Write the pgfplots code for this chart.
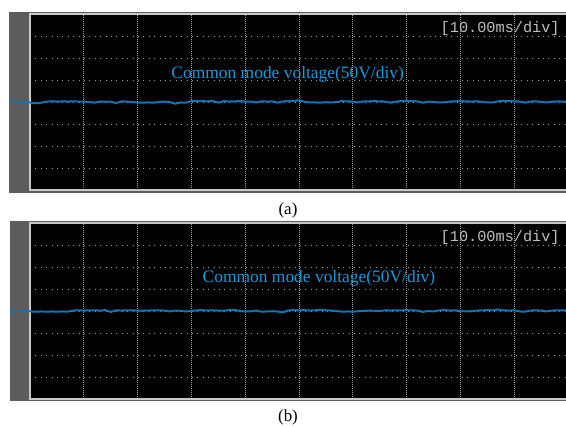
\documentclass[border=0pt]{standalone}
\usepackage{pgfplots}
\pgfplotsset{compat=1.18}
\usepackage{pgfplotstable}
\usepackage{fontspec}
\setmainfont{Liberation Serif}
\newfontfamily\scopemono{Liberation Mono}

\definecolor{framegray}{RGB}{92,92,92}
\definecolor{bordergray}{RGB}{200,200,200}
\definecolor{gridgray}{RGB}{160,160,160}
\definecolor{tracecol}{RGB}{16,116,185}
\definecolor{labelcol}{RGB}{28,152,215}
\definecolor{divcol}{RGB}{190,190,190}

% common-mode voltage traces, x in time divisions, y in vertical divisions
\pgfplotstableread{
x y
0.00 -0.05
0.10 -0.05
0.20 -0.04
0.30 0.02
0.40 0.03
0.50 0.02
0.60 0.03
0.70 0.02
0.80 0.03
0.90 0.02
1.00 0.02
1.10 0.00
1.20 -0.03
1.30 0.02
1.40 0.01
1.50 0.02
1.60 -0.05
1.70 0.03
1.80 0.02
1.90 0.00
2.00 -0.02
2.10 -0.03
2.20 -0.02
2.30 -0.03
2.40 0.00
2.50 0.02
2.60 0.00
2.70 -0.08
2.80 -0.02
2.90 -0.03
3.00 0.04
3.10 0.05
3.20 0.04
3.30 0.03
3.40 0.05
3.50 -0.03
3.60 0.04
3.70 0.02
3.80 0.03
3.90 0.04
4.00 0.02
4.10 0.02
4.20 -0.02
4.30 0.03
4.40 0.02
4.50 0.03
4.60 -0.03
4.70 0.03
4.80 0.04
4.90 0.05
5.00 0.08
5.10 0.01
5.20 -0.02
5.30 -0.02
5.40 -0.03
5.50 -0.01
5.60 -0.02
5.70 0.00
5.80 0.04
5.90 0.03
6.00 0.02
6.10 -0.02
6.20 0.03
6.30 0.03
6.40 0.04
6.50 0.03
6.60 0.02
6.70 -0.03
6.80 0.02
6.90 0.04
7.00 0.05
7.10 0.04
7.20 0.03
7.30 -0.03
7.40 0.02
7.50 0.00
7.60 -0.02
7.70 -0.01
7.80 0.02
7.90 0.03
8.00 0.04
8.10 0.03
8.20 0.02
8.30 0.03
8.40 0.01
8.50 -0.02
8.60 -0.02
8.70 0.03
8.80 0.05
8.90 0.04
9.00 0.03
9.10 0.02
9.20 -0.03
9.30 0.02
9.40 0.03
9.50 0.01
9.60 -0.02
9.70 0.01
9.80 0.03
9.90 0.02
10.00 0.02
}\tracea

\pgfplotstableread{
x y
0.00 -0.02
0.10 -0.03
0.20 -0.02
0.30 -0.03
0.40 -0.02
0.50 -0.03
0.60 -0.02
0.70 -0.03
0.80 0.02
0.90 0.03
1.00 0.02
1.10 0.03
1.20 0.03
1.30 0.02
1.40 0.04
1.50 -0.04
1.60 0.03
1.70 0.02
1.80 0.03
1.90 0.03
2.00 0.02
2.10 0.01
2.20 0.02
2.30 0.03
2.40 0.03
2.50 0.02
2.60 -0.02
2.70 0.02
2.80 0.01
2.90 -0.02
3.00 0.00
3.10 0.03
3.20 0.04
3.30 0.02
3.40 0.03
3.50 0.02
3.60 0.01
3.70 0.04
3.80 0.05
3.90 0.00
4.00 -0.02
4.10 -0.02
4.20 0.02
4.30 -0.03
4.40 -0.02
4.50 -0.01
4.60 -0.02
4.70 -0.06
4.80 0.03
4.90 0.04
5.00 0.03
5.10 0.04
5.20 0.02
5.30 0.03
5.40 0.06
5.50 0.03
5.60 0.02
5.70 0.00
5.80 -0.03
5.90 -0.02
6.00 -0.03
6.10 -0.01
6.20 0.00
6.30 0.02
6.40 0.01
6.50 0.00
6.60 0.03
6.70 0.02
6.80 0.03
6.90 0.03
7.00 0.04
7.10 0.03
7.20 0.02
7.30 -0.04
7.40 0.00
7.50 -0.02
7.60 0.03
7.70 0.04
7.80 0.02
7.90 0.03
8.00 0.00
8.10 -0.02
8.20 -0.01
8.30 0.02
8.40 0.03
8.50 0.04
8.60 0.03
8.70 0.07
8.80 0.03
8.90 0.02
9.00 0.03
9.10 -0.02
9.20 -0.03
9.30 0.02
9.40 0.03
9.50 0.02
9.60 -0.02
9.70 0.02
9.80 0.03
9.90 0.03
10.00 0.02
}\traceb

\pgfplotsset{
  scopepanel/.style={
    scale only axis,
    width=538bp, height=176bp,
    anchor=south west,
    xmin=0, xmax=10, ymin=-4, ymax=4,
    xtick={1,...,9}, ytick={-3,...,3},
    xticklabels={}, yticklabels={},
    major tick length=0pt,
    xmajorgrids, ymajorgrids,
    x grid style={gridgray, line width=0.8bp, dash pattern=on 0.8bp off 1.2bp},
    y grid style={gridgray, line width=1bp, dash pattern=on 1bp off 4.4bp},
    axis background/.style={fill=black},
    axis line style={bordergray, line width=1.2bp},
    clip=false,
  },
  scopetrace/.style={tracecol, line width=2bp, no marks},
}

\begin{document}
\begin{tikzpicture}[x=1bp,y=1bp]
\useasboundingbox (0,0) rectangle (566,426);
\fill[white] (0,0) rectangle (566,426);
% instrument frames
\fill[framegray] (9,233) rectangle (575,414);
\fill[framegray] (10,25) rectangle (575,205);

% panel (a)
\begin{axis}[scopepanel, at={(30bp,236bp)}]
  \addplot[scopetrace] table[x=x, y=y] {\tracea};
  \addplot[tracecol, line width=1.4bp, no marks] coordinates {(-0.25,0) (0,0)};
  \node[text=tracecol, font=\fontsize{11}{11}\selectfont, anchor=center, inner sep=0pt] at (axis cs:-0.33,0) {0};
  \node[text=labelcol, font=\fontsize{17.5}{17.5}\selectfont] at (axis cs:4.79,1.25) {Common mode voltage(50V/div)};
  \node[text=divcol, anchor=east, font=\scopemono\fontsize{15.3}{15.3}\selectfont] at (axis cs:9.91,3.32) {[10.00ms/div]};
\end{axis}
\node[font=\fontsize{17}{17}\selectfont] at (288,216) {(a)};

% panel (b)
\begin{axis}[scopepanel, at={(30bp,27bp)}]
  \addplot[scopetrace] table[x=x, y=y] {\traceb};
  \addplot[tracecol, line width=1.4bp, no marks] coordinates {(-0.25,0) (0,0)};
  \node[text=tracecol, font=\fontsize{11}{11}\selectfont, anchor=center, inner sep=0pt] at (axis cs:-0.33,0) {0};
  \node[text=labelcol, font=\fontsize{17.5}{17.5}\selectfont] at (axis cs:5.37,1.5) {Common mode voltage(50V/div)};
  \node[text=divcol, anchor=east, font=\scopemono\fontsize{15.3}{15.3}\selectfont] at (axis cs:9.91,3.32) {[10.00ms/div]};
\end{axis}
\node[font=\fontsize{17}{17}\selectfont] at (288,9) {(b)};
\end{tikzpicture}
\end{document}
